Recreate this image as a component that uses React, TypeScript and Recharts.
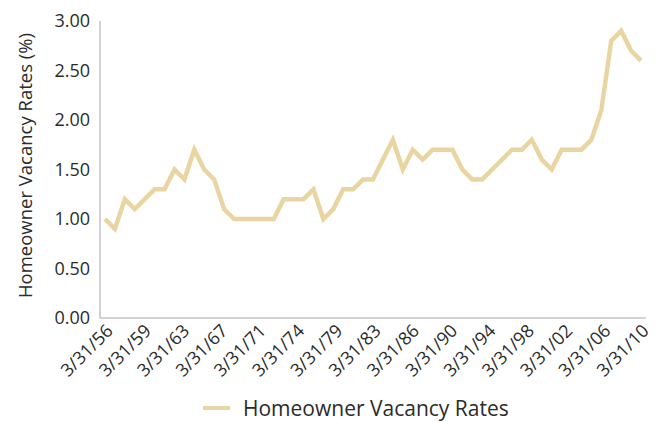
import React from 'react';
import { LineChart, Line, XAxis, YAxis, Legend } from 'recharts';

const dates = [
  '3/31/56', '3/31/57', '3/31/58', '3/31/59', '3/31/60', '3/31/61', '3/31/62', '3/31/63', '3/31/64', '3/31/65',
  '3/31/66', '3/31/67', '3/31/68', '3/31/69', '3/31/70', '3/31/71', '3/31/72', '3/31/73', '3/31/74', '3/31/75',
  '3/31/76', '3/31/77', '3/31/78', '3/31/79', '3/31/80', '3/31/81', '3/31/82', '3/31/83', '3/31/84', '3/31/85',
  '3/31/86', '3/31/87', '3/31/88', '3/31/89', '3/31/90', '3/31/91', '3/31/92', '3/31/93', '3/31/94', '3/31/95',
  '3/31/96', '3/31/97', '3/31/98', '3/31/99', '3/31/00', '3/31/01', '3/31/02', '3/31/03', '3/31/04', '3/31/05',
  '3/31/06', '3/31/07', '3/31/08', '3/31/09', '3/31/10',
];

const vacancyRates = [
  1.0, 0.9, 1.2, 1.1, 1.2, 1.3, 1.3, 1.5, 1.4, 1.7,
  1.5, 1.4, 1.1, 1.0, 1.0, 1.0, 1.0, 1.0, 1.2, 1.2,
  1.2, 1.3, 1.0, 1.1, 1.3, 1.3, 1.4, 1.4, 1.6, 1.8,
  1.5, 1.7, 1.6, 1.7, 1.7, 1.7, 1.5, 1.4, 1.4, 1.5,
  1.6, 1.7, 1.7, 1.8, 1.6, 1.5, 1.7, 1.7, 1.7, 1.8,
  2.1, 2.8, 2.9, 2.7, 2.6,
];

const tickLabels = [
  '3/31/56', '3/31/59', '3/31/63', '3/31/67', '3/31/71', '3/31/74', '3/31/79', '3/31/83',
  '3/31/86', '3/31/90', '3/31/94', '3/31/98', '3/31/02', '3/31/06', '3/31/10',
];

const yTicks = [0, 0.5, 1, 1.5, 2, 2.5, 3];

const seriesName = 'Homeowner Vacancy Rates';
const axisTitle = 'Homeowner Vacancy Rates (%)';

const LINE_COLOR = '#E9D5A1';
const TEXT_COLOR = '#2b2b2b';
const AXIS_COLOR = '#a6a6a6';
const FONT = '"Open Sans", sans-serif';

const data = dates.map((d, i) => ({ i, date: d, rate: vacancyRates[i] }));
const last = dates.length - 1;
const xTicks = tickLabels.map((_, k) => (k * last) / (tickLabels.length - 1));

const renderLegend = () => (
  <div
    style={{
      display: 'flex',
      alignItems: 'center',
      paddingLeft: 203,
      fontFamily: FONT,
      fontSize: 21,
      color: TEXT_COLOR,
      lineHeight: '22px',
      height: 22,
    }}
  >
    <svg width={27} height={10} style={{ display: 'block' }}>
      <line x1={0} y1={5} x2={27} y2={5} stroke={LINE_COLOR} strokeWidth={4} />
    </svg>
    <span style={{ marginLeft: 13 }}>{seriesName}</span>
  </div>
);

export default function App() {
  return (
    <div style={{ position: 'absolute', left: 0, top: 0, background: '#fff' }}>
      <LineChart
        width={665}
        height={422}
        data={data}
        margin={{ top: 21, right: 19, bottom: 44, left: 0 }}
      >
        <XAxis
          dataKey="i"
          type="number"
          domain={[-0.5, last + 0.5]}
          ticks={xTicks}
          interval={0}
          tickFormatter={(v: number) => tickLabels[Math.round((v * (tickLabels.length - 1)) / last)]}
          tickLine={false}
          tickSize={0}
          tickMargin={5}
          angle={-45}
          textAnchor="end"
          height={60}
          axisLine={{ stroke: AXIS_COLOR, strokeWidth: 1 }}
          tick={{ fill: TEXT_COLOR, fontSize: 18, fontFamily: FONT }}
        />
        <YAxis
          domain={[0, 3]}
          ticks={yTicks}
          interval={0}
          tickFormatter={(v: number) => v.toFixed(2)}
          tickLine={false}
          tickSize={0}
          tickMargin={10}
          width={100}
          axisLine={{ stroke: AXIS_COLOR, strokeWidth: 1 }}
          tick={{ fill: TEXT_COLOR, fontSize: 18, fontFamily: FONT }}
          label={{
            value: axisTitle,
            angle: -90,
            position: 'center',
            dx: -25,
            dy: -4,
            style: { fill: TEXT_COLOR, fontSize: 18.5, fontFamily: FONT, textAnchor: 'middle' },
          }}
        />
        <Legend
          verticalAlign="middle"
          align="center"
          content={renderLegend}
          wrapperStyle={{ top: 397, left: 0, width: 665 }}
        />
        <Line
          type="linear"
          dataKey="rate"
          name={seriesName}
          stroke={LINE_COLOR}
          strokeWidth={4.5}
          dot={false}
          activeDot={false}
          isAnimationActive={false}
        />
      </LineChart>
    </div>
  );
}
